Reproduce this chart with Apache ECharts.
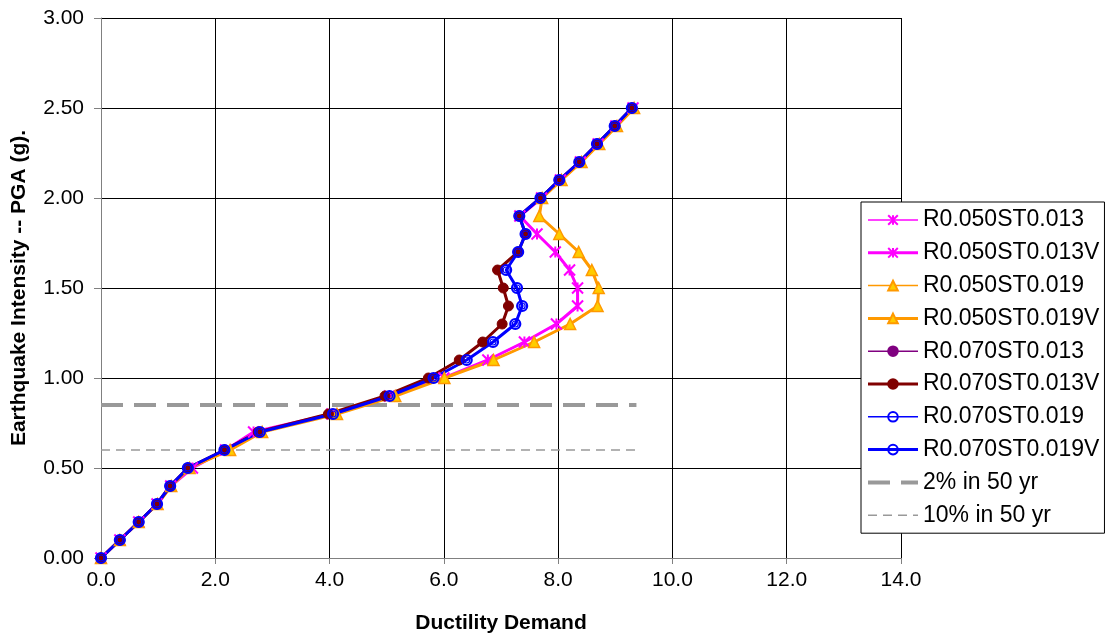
<!DOCTYPE html>
<html>
<head>
<meta charset="utf-8">
<script src="https://cdn.jsdelivr.net/npm/echarts@6/dist/echarts.min.js"></script>
<style>html,body{margin:0;padding:0;background:#fff}#c{width:1109px;height:639px}</style>
</head>
<body>
<div id="c"></div>
<script>
// PGA levels (y values)
var pga = [0.0,0.1,0.2,0.3,0.4,0.5,0.6,0.7,0.8,0.9,1.0,1.1,1.2,1.3,1.4,1.5,1.6,1.7,1.8,1.9,2.0,2.1,2.2,2.3,2.4,2.5];
// Ductility demand per series (x values)
var r050st013  = [0,0.33,0.66,0.98,1.22,1.60,2.18,2.67,4.04,5.05,6.00,6.77,7.41,7.97,8.34,8.34,8.20,7.95,7.63,7.33,7.71,8.04,8.39,8.70,9.01,9.31];
var r050st013v = [0,0.33,0.66,0.98,1.22,1.60,2.18,2.67,4.04,5.05,6.00,6.77,7.41,7.97,8.34,8.34,8.20,7.95,7.63,7.33,7.71,8.04,8.39,8.70,9.01,9.31];
var r050st019  = [0,0.33,0.66,0.99,1.23,1.55,2.26,2.82,4.13,5.15,6.01,6.87,7.58,8.21,8.69,8.71,8.59,8.36,8.02,7.67,7.72,8.06,8.41,8.72,9.03,9.33];
var r050st019v = [0,0.33,0.66,0.99,1.23,1.55,2.26,2.82,4.13,5.15,6.01,6.87,7.58,8.21,8.69,8.71,8.59,8.36,8.02,7.67,7.72,8.06,8.41,8.72,9.03,9.33];
var r070st013  = [0,0.33,0.66,0.98,1.21,1.52,2.16,2.75,3.98,4.97,5.73,6.27,6.68,7.02,7.13,7.04,6.94,7.30,7.43,7.32,7.69,8.02,8.37,8.68,8.99,9.29];
var r070st013v = [0,0.33,0.66,0.98,1.21,1.52,2.16,2.75,3.98,4.97,5.73,6.27,6.68,7.02,7.13,7.04,6.94,7.30,7.43,7.32,7.69,8.02,8.37,8.68,8.99,9.29];
var r070st019  = [0,0.33,0.66,0.98,1.21,1.52,2.16,2.78,4.06,5.05,5.82,6.40,6.86,7.25,7.37,7.28,7.09,7.30,7.43,7.32,7.69,8.02,8.37,8.68,8.99,9.29];
var r070st019v = [0,0.33,0.66,0.98,1.21,1.52,2.16,2.78,4.06,5.05,5.82,6.40,6.86,7.25,7.37,7.28,7.09,7.30,7.43,7.32,7.69,8.02,8.37,8.68,8.99,9.29];
// Hazard levels
var hazard2in50x = [0, 9.37];
var hazard2in50y = [0.85, 0.85];
var hazard10in50x = [0, 9.37];
var hazard10in50y = [0.60, 0.60];
var seriesNames = ['R0.050ST0.013','R0.050ST0.013V','R0.050ST0.019','R0.050ST0.019V','R0.070ST0.013','R0.070ST0.013V','R0.070ST0.019','R0.070ST0.019V','2% in 50 yr','10% in 50 yr'];

function pts(xs, ys){ return xs.map(function(x,i){ return [x, ys[i]]; }); }
var ast = 'path://M0,0L10,10M10,0L0,10M5,0L5,10';
var font = 'Arial, "Liberation Sans", sans-serif';

function curve(name, xs, color, fill, symbol, size, lw, bw){
  return {
    name: name, type: 'line', data: pts(xs, pga),
    symbol: symbol, symbolSize: size, showSymbol: true,
    lineStyle: {color: color, width: lw},
    itemStyle: {color: fill, borderColor: color, borderWidth: bw},
    animation: false
  };
}

var legendWidths = [1.5, 3, 1.5, 3, 1.5, 3, 1.5, 3, 4, 1.5];
var legendData = seriesNames.map(function(n, i){
  var item = {name: n, lineStyle: {width: legendWidths[i]}};
  if (i >= 8) { item.itemStyle = {opacity: 0, color: 'rgba(0,0,0,0)', borderWidth: 0}; }
  return item;
});

var chart = echarts.init(document.getElementById('c'), null, {renderer: 'canvas'});
chart.setOption({
  animation: false,
  backgroundColor: '#fff',
  grid: {left: 101, top: 18, right: 208, bottom: 81},
  xAxis: {
    type: 'value', min: 0, max: 14, interval: 2,
    name: 'Ductility Demand', nameLocation: 'middle', nameGap: 55,
    nameTextStyle: {fontFamily: font, fontWeight: 'bold', fontSize: 21, color: '#000'},
    axisLine: {show: true, onZero: false, lineStyle: {color: '#808080', width: 1}},
    axisTick: {show: true, inside: false, length: 6, lineStyle: {color: '#808080'}},
    axisLabel: {fontFamily: font, fontSize: 21, color: '#000', margin: 12, formatter: function(v){ return v.toFixed(1); }},
    splitLine: {show: true, lineStyle: {color: '#000', width: 1}}
  },
  yAxis: {
    type: 'value', min: 0, max: 3, interval: 0.5,
    name: 'Earthquake Intensity -- PGA (g).', nameLocation: 'middle', nameGap: 71,
    nameTextStyle: {fontFamily: font, fontWeight: 'bold', fontSize: 21, color: '#000'},
    axisLine: {show: true, onZero: false, lineStyle: {color: '#808080', width: 1}},
    axisTick: {show: true, inside: false, length: 7, lineStyle: {color: '#808080'}},
    axisLabel: {fontFamily: font, fontSize: 21, color: '#000', margin: 17, formatter: function(v){ return v.toFixed(2); }},
    splitLine: {show: true, lineStyle: {color: '#000', width: 1}}
  },
  legend: {
    orient: 'vertical', left: 861, top: 202,
    data: legendData,
    backgroundColor: '#fff', borderColor: '#000', borderWidth: 1,
    padding: [6, 5, 6, 5],
    itemWidth: 50, itemHeight: 12, itemGap: 8.8,
    textStyle: {fontFamily: font, fontSize: 23, color: '#000', lineHeight: 24}
  },
  series: [
    curve(seriesNames[0], r050st013, '#FF00FF', '#FF00FF', ast, 7, 1.5, 1.2),
    curve(seriesNames[1], r050st013v, '#FF00FF', '#FF00FF', ast, 11, 3, 2),
    curve(seriesNames[2], r050st019, '#FF9900', '#FFCC00', 'triangle', 6, 1.5, 1),
    curve(seriesNames[3], r050st019v, '#FF9900', '#FFCC00', 'triangle', 11, 3, 1.5),
    curve(seriesNames[4], r070st013, '#800080', '#800080', 'circle', 6, 1.5, 1),
    curve(seriesNames[5], r070st013v, '#800000', '#800000', 'circle', 10, 3, 1),
    curve(seriesNames[6], r070st019, '#0000FF', 'rgba(0,0,0,0)', 'circle', 6, 1.5, 1.2),
    curve(seriesNames[7], r070st019v, '#0000FF', 'rgba(0,0,0,0)', 'circle', 10, 3, 2.2),
    {name: seriesNames[8], type: 'line', data: pts(hazard2in50x, hazard2in50y), symbol: 'none',
     lineStyle: {color: '#999999', width: 4, type: [22, 11]}, itemStyle: {color: '#999999'}, z: 1},
    {name: seriesNames[9], type: 'line', data: pts(hazard10in50x, hazard10in50y), symbol: 'none',
     lineStyle: {color: '#999999', width: 1.5, type: [9, 6]}, itemStyle: {color: '#999999'}, z: 1}
  ]
});
</script>
</body>
</html>
